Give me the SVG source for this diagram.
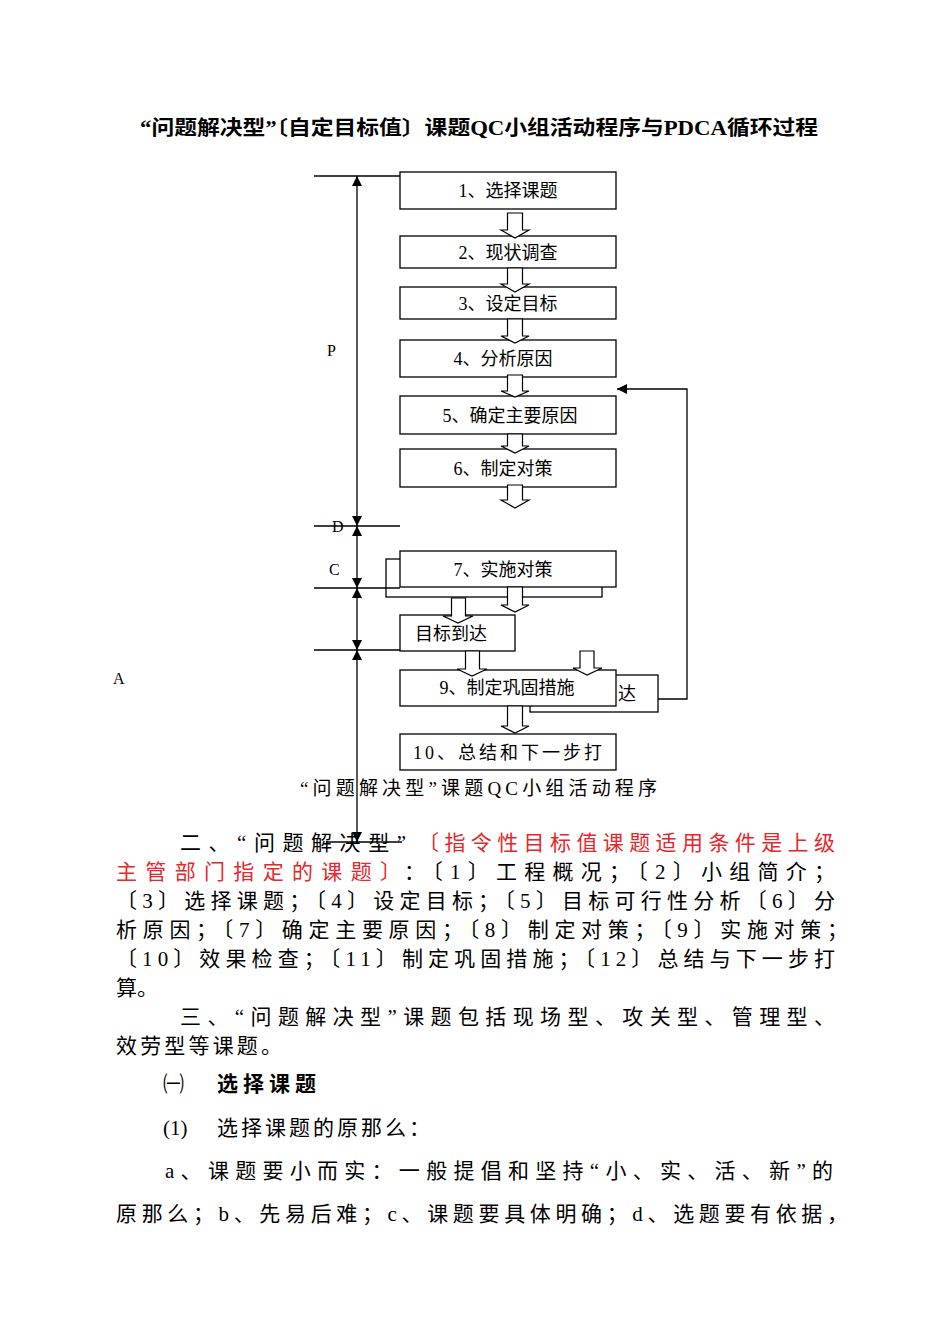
<svg xmlns="http://www.w3.org/2000/svg" width="950" height="1344" viewBox="0 0 950 1344">
<style>
.t{font-family:"Liberation Serif","Noto Sans CJK SC",serif;fill:#000}
.b{font-size:18px}
.body{font-size:21px}
.red{fill:#e8262b}
.box{fill:#fff;stroke:#000;stroke-width:1.3}
.ln{fill:none;stroke:#000;stroke-width:1.3}
.ba{fill:#fff;stroke:#000;stroke-width:1.2}
</style>
<defs>
<marker id="ah" viewBox="0 0 10 10" refX="10" refY="5" markerWidth="10" markerHeight="10" markerUnits="userSpaceOnUse" orient="auto">
<path d="M0,0 L10,5 L0,10 Z" fill="#000"/>
</marker>
</defs>
<rect width="950" height="1344" fill="#fff"/>
<text class="t" x="140" y="135" font-size="20" font-weight="bold" textLength="678" lengthAdjust="spacingAndGlyphs">“问题解决型”〔自定目标值〕课题QC小组活动程序与PDCA循环过程</text>

<g id="back-boxes">
<rect class="box" x="386" y="559" width="216" height="38"/>
<rect class="box" x="530" y="675" width="128" height="37"/>
<text class="t b" x="618" y="700">达</text>
</g>

<g id="connectors">
<line class="ln" x1="314" y1="176" x2="400" y2="176"/>
<line class="ln" x1="314" y1="526" x2="400" y2="526"/>
<line class="ln" x1="314" y1="588" x2="400" y2="588"/>
<line class="ln" x1="314" y1="650" x2="400" y2="650"/>
<line class="ln" x1="326" y1="842" x2="402" y2="842"/>
<line class="ln" x1="357" y1="351" x2="357" y2="176" marker-end="url(#ah)"/>
<line class="ln" x1="357" y1="351" x2="357" y2="526" marker-end="url(#ah)"/>
<line class="ln" x1="357" y1="557" x2="357" y2="526" marker-end="url(#ah)"/>
<line class="ln" x1="357" y1="557" x2="357" y2="588" marker-end="url(#ah)"/>
<line class="ln" x1="357" y1="619" x2="357" y2="588" marker-end="url(#ah)"/>
<line class="ln" x1="357" y1="619" x2="357" y2="650" marker-end="url(#ah)"/>
<line class="ln" x1="357" y1="746" x2="357" y2="650" marker-end="url(#ah)"/>
<line class="ln" x1="357" y1="746" x2="357" y2="842" marker-end="url(#ah)"/>
<polyline class="ln" points="658,699 687,699 687,389 617,389" marker-end="url(#ah)"/>
</g>

<g id="labels">
<text class="t" x="327" y="356" font-size="16">P</text>
<text class="t" x="332" y="532" font-size="16">D</text>
<text class="t" x="329" y="575" font-size="16">C</text>
<text class="t" x="113" y="684" font-size="16">A</text>
</g>

<g id="n1"><rect class="box" x="400" y="172" width="216" height="37"/><text class="t b" x="508" y="197" text-anchor="middle">1、选择课题</text></g>
<g id="n2"><rect class="box" x="400" y="236" width="216" height="32"/><text class="t b" x="508" y="259" text-anchor="middle">2、现状调查</text></g>
<g id="n3"><rect class="box" x="400" y="287" width="216" height="32"/><text class="t b" x="508" y="310" text-anchor="middle">3、设定目标</text></g>
<g id="n4"><rect class="box" x="400" y="340" width="216" height="37"/><text class="t b" x="503" y="365" text-anchor="middle">4、分析原因</text></g>
<g id="n5"><rect class="box" x="400" y="396" width="216" height="38"/><text class="t b" x="510" y="422" text-anchor="middle">5、确定主要原因</text></g>
<g id="n6"><rect class="box" x="400" y="449" width="216" height="38"/><text class="t b" x="503" y="475" text-anchor="middle">6、制定对策</text></g>
<g id="n7"><rect class="box" x="400" y="551" width="216" height="36"/><text class="t b" x="503" y="576" text-anchor="middle">7、实施对策</text></g>
<g id="n8"><rect class="box" x="400" y="615" width="115" height="36"/><text class="t b" x="415" y="640">目标到达</text></g>
<g id="n9"><rect class="box" x="400" y="670" width="216" height="36"/><text class="t b" x="507" y="694" text-anchor="middle">9、制定巩固措施</text></g>
<g id="n10"><rect class="box" x="400" y="734" width="216" height="36"/><text class="t b" x="413" y="759" textLength="189" lengthAdjust="spacing">10、总结和下一步打</text></g>

<g id="block-arrows">
<path class="ba" d="M507.5,213 H522.5 V230 H529 L515,238 L501,230 H507.5 Z"/>
<path class="ba" d="M507.5,268 H522.5 V284 H529 L515,292 L501,284 H507.5 Z"/>
<path class="ba" d="M507.5,319 H522.5 V336 H529 L515,343 L501,336 H507.5 Z"/>
<path class="ba" d="M507.5,375 H522.5 V391 H529 L515,397 L501,391 H507.5 Z"/>
<path class="ba" d="M507.5,434 H522.5 V446 H529 L515,453 L501,446 H507.5 Z"/>
<path class="ba" d="M507.5,485 H522.5 V500 H529 L515,508 L501,500 H507.5 Z"/>
<path class="ba" d="M451.5,598 H465.5 V616 H473 L458,623 L443,616 H451.5 Z"/>
<path class="ba" d="M507.5,587 H522.5 V605 H529 L515,612 L501,605 H507.5 Z"/>
<path class="ba" d="M465.5,651 H479.5 V669 H487 L472,676 L457,669 H465.5 Z"/>
<path class="ba" d="M580,651 H594 V668 H602 L587,675 L573,668 H580 Z"/>
<path class="ba" d="M507.5,706 H522.5 V726 H529 L515,733 L501,726 H507.5 Z"/>
</g>

<text class="t" x="300" y="795" font-size="19" textLength="357" lengthAdjust="spacing">“问题解决型”课题QC小组活动程序</text>

<g id="body">
<text class="t body" x="180" y="850" textLength="226" lengthAdjust="spacing">二、“问题解决型”</text>
<text class="t body red" x="418" y="850" textLength="417" lengthAdjust="spacing">〔指令性目标值课题适用条件是上级</text>
<text class="t body red" x="116" y="879" textLength="285" lengthAdjust="spacing">主管部门指定的课题〕</text>
<text class="t body" x="404" y="879" textLength="431" lengthAdjust="spacing">：〔1〕工程概况；〔2〕小组简介；</text>
<text class="t body" x="116" y="908" textLength="719" lengthAdjust="spacing">〔3〕选择课题；〔4〕设定目标；〔5〕目标可行性分析〔6〕分</text>
<text class="t body" x="116" y="937" textLength="732" lengthAdjust="spacing">析原因；〔7〕确定主要原因；〔8〕制定对策；〔9〕实施对策；</text>
<text class="t body" x="116" y="966" textLength="719" lengthAdjust="spacing">〔10〕效果检查；〔11〕制定巩固措施；〔12〕总结与下一步打</text>
<text class="t body" x="116" y="995">算。</text>
<text class="t body" x="180" y="1024" textLength="655" lengthAdjust="spacing">三、“问题解决型”课题包括现场型、攻关型、管理型、</text>
<text class="t body" x="116" y="1053" textLength="166" lengthAdjust="spacing">效劳型等课题。</text>
<text class="t body" x="163" y="1091">㈠</text>
<text class="t body" x="217" y="1091" font-weight="bold" textLength="99" lengthAdjust="spacing">选择课题</text>
<text class="t body" x="163" y="1135">(1)</text>
<text class="t body" x="217" y="1135" textLength="213" lengthAdjust="spacing">选择课题的原那么：</text>
<text class="t body" x="165" y="1178" textLength="668" lengthAdjust="spacing">a、课题要小而实：一般提倡和坚持“小、实、活、新”的</text>
<text class="t body" x="116" y="1221" textLength="732" lengthAdjust="spacing">原那么；b、先易后难；c、课题要具体明确；d、选题要有依据，</text>
</g>
</svg>
